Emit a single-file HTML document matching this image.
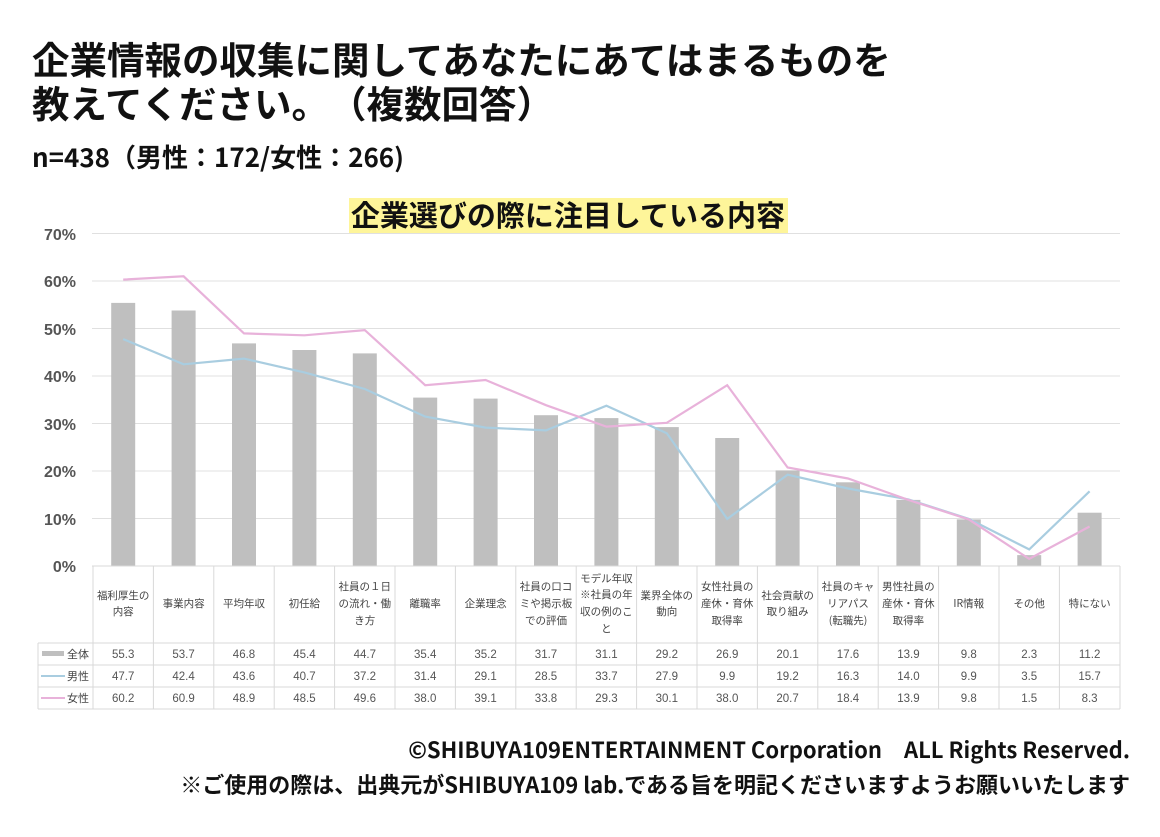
<!DOCTYPE html>
<html><head><meta charset="utf-8"><style>
body{margin:0;background:#fff;}
svg{display:block;font-family:"Liberation Sans","Noto Sans CJK JP",sans-serif;}
</style></head><body>
<svg width="1160" height="837" viewBox="0 0 1160 837" xmlns="http://www.w3.org/2000/svg">
<rect width="1160" height="837" fill="#fff"/>
<g font-family="'Noto Sans CJK JP',sans-serif" font-weight="bold" fill="#111">
<text x="32" y="74" font-size="37.5">企業情報の収集に関してあなたにあてはまるものを</text>
<text x="32" y="118" font-size="37.5">教えてください。　（複数回答）</text>
<text x="32" y="167" font-size="26">n=438（男性：172/女性：266)</text>
</g>
<rect x="349" y="198" width="439" height="35" fill="#fef59a"/>
<text x="568" y="226" font-size="29" font-weight="bold" text-anchor="middle" font-family="'Noto Sans CJK JP',sans-serif" fill="#111">企業選びの際に注目している内容</text>
<g stroke="#e0e0e0" stroke-width="1">
<line x1="92" x2="1120" y1="233.5" y2="233.5"/><line x1="92" x2="1120" y1="281" y2="281"/>
<line x1="92" x2="1120" y1="328.5" y2="328.5"/><line x1="92" x2="1120" y1="376" y2="376"/>
<line x1="92" x2="1120" y1="423.5" y2="423.5"/><line x1="92" x2="1120" y1="471" y2="471"/>
<line x1="92" x2="1120" y1="518.5" y2="518.5"/>
</g>
<g font-size="16" font-weight="bold" fill="#555" text-anchor="end">
<text x="76" y="240">70%</text><text x="76" y="287">60%</text><text x="76" y="335">50%</text>
<text x="76" y="382">40%</text><text x="76" y="430">30%</text><text x="76" y="477">20%</text>
<text x="76" y="525">10%</text><text x="76" y="572">0%</text>
</g>
<g fill="#bfbfbf">
<rect x="111.2" y="302.9" width="24" height="263.1"/><rect x="171.6" y="310.5" width="24" height="255.5"/>
<rect x="232" y="343.4" width="24" height="222.6"/><rect x="292.4" y="350" width="24" height="216"/>
<rect x="352.8" y="353.4" width="24" height="212.6"/><rect x="413.2" y="397.6" width="24" height="168.4"/>
<rect x="473.6" y="398.6" width="24" height="167.4"/><rect x="534" y="415.2" width="24" height="150.8"/>
<rect x="594.4" y="418.1" width="24" height="147.9"/><rect x="654.8" y="427.1" width="24" height="138.9"/>
<rect x="715.2" y="438" width="24" height="128"/><rect x="775.6" y="470.4" width="24" height="95.6"/>
<rect x="836" y="482.3" width="24" height="83.7"/><rect x="896.4" y="499.9" width="24" height="66.1"/>
<rect x="956.8" y="519.4" width="24" height="46.6"/><rect x="1017.2" y="555.1" width="24" height="10.9"/>
<rect x="1077.6" y="512.7" width="24" height="53.3"/>
</g>
<polyline fill="none" stroke="#a9cde0" stroke-width="2.2" points="123.2,339.1 183.6,364.3 244,358.6 304.4,372.4 364.8,389 425.2,416.6 485.6,427.6 546,430.4 606.4,405.7 666.8,433.3 727.2,518.9 787.6,474.7 848,488.5 908.4,499.4 968.8,518.9 1029.2,549.4 1089.6,491.3"/>
<polyline fill="none" stroke="#e8b2da" stroke-width="2.2" points="123.2,279.6 183.6,276.3 244,333.4 304.4,335.3 364.8,330.1 425.2,385.2 485.6,380 546,405.2 606.4,426.6 666.8,422.8 727.2,385.2 787.6,467.5 848,478.5 908.4,499.9 968.8,519.4 1029.2,558.9 1089.6,526.5"/>
<g stroke="#d9d9d9" stroke-width="1">
<line x1="92" x2="1120" y1="566" y2="566"/>
<line x1="38" x2="1120" y1="643" y2="643"/><line x1="38" x2="1120" y1="665" y2="665"/>
<line x1="38" x2="1120" y1="687" y2="687"/><line x1="38" x2="1120" y1="709" y2="709"/>
<line x1="93" x2="93" y1="566" y2="709"/><line x1="153.4" x2="153.4" y1="566" y2="709"/>
<line x1="213.8" x2="213.8" y1="566" y2="709"/><line x1="274.2" x2="274.2" y1="566" y2="709"/>
<line x1="334.6" x2="334.6" y1="566" y2="709"/><line x1="395" x2="395" y1="566" y2="709"/>
<line x1="455.4" x2="455.4" y1="566" y2="709"/><line x1="515.8" x2="515.8" y1="566" y2="709"/>
<line x1="576.2" x2="576.2" y1="566" y2="709"/><line x1="636.6" x2="636.6" y1="566" y2="709"/>
<line x1="697" x2="697" y1="566" y2="709"/><line x1="757.4" x2="757.4" y1="566" y2="709"/>
<line x1="817.8" x2="817.8" y1="566" y2="709"/><line x1="878.2" x2="878.2" y1="566" y2="709"/>
<line x1="938.6" x2="938.6" y1="566" y2="709"/><line x1="999" x2="999" y1="566" y2="709"/>
<line x1="1059.4" x2="1059.4" y1="566" y2="709"/><line x1="1120" x2="1120" y1="566" y2="709"/>
<line x1="38" x2="38" y1="643" y2="709"/>
</g>
<g font-size="10.5" fill="#444" text-anchor="middle" font-family="'Noto Sans CJK JP',sans-serif">
<text x="123.2" y="599">福利厚生の</text><text x="123.2" y="615">内容</text>
<text x="183.6" y="607">事業内容</text>
<text x="244" y="607">平均年収</text>
<text x="304.4" y="607">初任給</text>
<text x="364.8" y="590">社員の１日</text><text x="364.8" y="607">の流れ・働</text><text x="364.8" y="624">き方</text>
<text x="425.2" y="607">離職率</text>
<text x="485.6" y="607">企業理念</text>
<text x="546" y="590">社員の口コ</text><text x="546" y="607">ミや掲示板</text><text x="546" y="624">での評価</text>
<text x="606.4" y="582">モデル年収</text><text x="606.4" y="598">※社員の年</text><text x="606.4" y="615">収の例のこ</text><text x="606.4" y="632">と</text>
<text x="666.8" y="599">業界全体の</text><text x="666.8" y="615">動向</text>
<text x="727.2" y="590">女性社員の</text><text x="727.2" y="607">産休・育休</text><text x="727.2" y="624">取得率</text>
<text x="787.6" y="599">社会貢献の</text><text x="787.6" y="615">取り組み</text>
<text x="848" y="590">社員のキャ</text><text x="848" y="607">リアパス</text><text x="848" y="624">(転職先)</text>
<text x="908.4" y="590">男性社員の</text><text x="908.4" y="607">産休・育休</text><text x="908.4" y="624">取得率</text>
<text x="968.8" y="607">IR情報</text>
<text x="1029.2" y="607">その他</text>
<text x="1089.6" y="607">特にない</text>
</g>
<rect x="42" y="651" width="22" height="5" fill="#bfbfbf"/>
<line x1="41" x2="65" y1="676" y2="676" stroke="#a9cde0" stroke-width="2"/>
<line x1="41" x2="65" y1="698" y2="698" stroke="#e8b2da" stroke-width="2"/>
<g font-size="11" fill="#444" font-family="'Noto Sans CJK JP',sans-serif">
<text x="67" y="658">全体</text><text x="67" y="680">男性</text><text x="67" y="702">女性</text>
</g>
<g font-size="11.5" fill="#555" text-anchor="middle">
<text x="123.2" y="658">55.3</text><text x="183.6" y="658">53.7</text><text x="244" y="658">46.8</text><text x="304.4" y="658">45.4</text><text x="364.8" y="658">44.7</text><text x="425.2" y="658">35.4</text><text x="485.6" y="658">35.2</text><text x="546" y="658">31.7</text><text x="606.4" y="658">31.1</text><text x="666.8" y="658">29.2</text><text x="727.2" y="658">26.9</text><text x="787.6" y="658">20.1</text><text x="848" y="658">17.6</text><text x="908.4" y="658">13.9</text><text x="968.8" y="658">9.8</text><text x="1029.2" y="658">2.3</text><text x="1089.6" y="658">11.2</text>
<text x="123.2" y="680">47.7</text><text x="183.6" y="680">42.4</text><text x="244" y="680">43.6</text><text x="304.4" y="680">40.7</text><text x="364.8" y="680">37.2</text><text x="425.2" y="680">31.4</text><text x="485.6" y="680">29.1</text><text x="546" y="680">28.5</text><text x="606.4" y="680">33.7</text><text x="666.8" y="680">27.9</text><text x="727.2" y="680">9.9</text><text x="787.6" y="680">19.2</text><text x="848" y="680">16.3</text><text x="908.4" y="680">14.0</text><text x="968.8" y="680">9.9</text><text x="1029.2" y="680">3.5</text><text x="1089.6" y="680">15.7</text>
<text x="123.2" y="702">60.2</text><text x="183.6" y="702">60.9</text><text x="244" y="702">48.9</text><text x="304.4" y="702">48.5</text><text x="364.8" y="702">49.6</text><text x="425.2" y="702">38.0</text><text x="485.6" y="702">39.1</text><text x="546" y="702">33.8</text><text x="606.4" y="702">29.3</text><text x="666.8" y="702">30.1</text><text x="727.2" y="702">38.0</text><text x="787.6" y="702">20.7</text><text x="848" y="702">18.4</text><text x="908.4" y="702">13.9</text><text x="968.8" y="702">9.8</text><text x="1029.2" y="702">1.5</text><text x="1089.6" y="702">8.3</text>
</g>
<g font-size="22" font-weight="bold" fill="#111" text-anchor="end" font-family="'Noto Sans CJK JP',sans-serif">
<text x="1130" y="758">©SHIBUYA109ENTERTAINMENT Corporation　ALL Rights Reserved.</text>
<text x="1130" y="793">※ご使用の際は、出典元がSHIBUYA109 lab.である旨を明記くださいますようお願いいたします</text>
</g>
</svg>
</body></html>
